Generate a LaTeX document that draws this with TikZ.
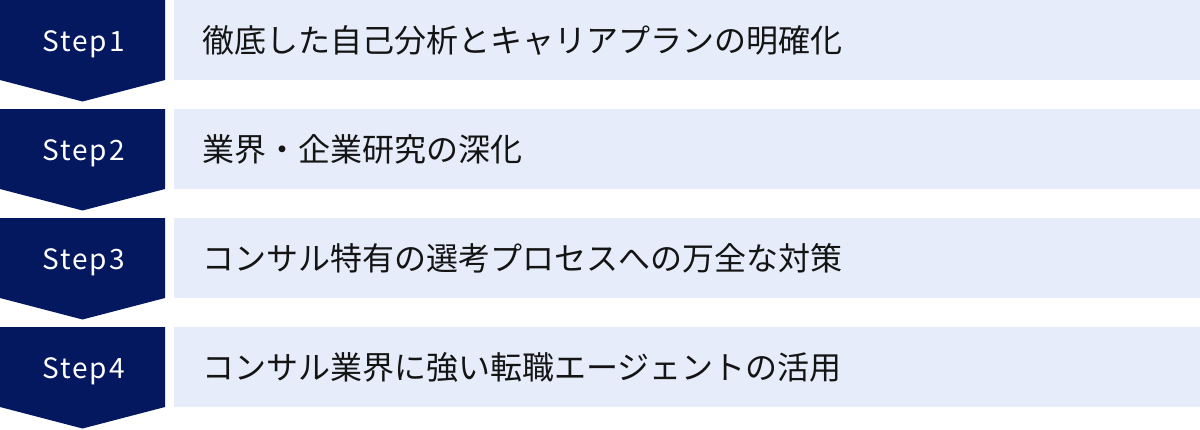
\documentclass[tikz,border=0pt]{standalone}
\usepackage{fontspec}
\setmainfont{Noto Sans CJK JP}
\newfontfamily\stepfont[LetterSpace=7]{Noto Sans CJK JP}
\definecolor{navy}{RGB}{4,24,96}
\definecolor{pale}{RGB}{230,236,250}
\definecolor{ink}{RGB}{20,20,20}
\begin{document}
\begin{tikzpicture}[x=1pt,y=-1pt,
  chevron/.style={fill=navy,draw=none},
  steplabel/.style={text=white,font=\stepfont\fontsize{28}{30}\selectfont,inner sep=0pt,anchor=center},
  panel/.style={fill=pale,draw=none,minimum width=1026pt,minimum height=80pt,inner sep=0pt,anchor=north west},
  paneltext/.style={text=ink,font=\fontsize{32}{36}\selectfont,inner sep=0pt,anchor=west}]
\useasboundingbox (0,0) rectangle (1200,429);
\foreach \i/\t/\txt in {1/0/徹底した自己分析とキャリアプランの明確化,
                        2/109/業界・企業研究の深化,
                        3/218/コンサル特有の選考プロセスへの万全な対策,
                        4/327/コンサル業界に強い転職エージェントの活用}{
  \fill[chevron] (0,\t) -- (165,\t) -- (165,\t+80) -- (82.5,\t+101.5) -- (0,\t+80) -- cycle;
  \node[steplabel] (s\i) at (83.5,\t+44) {Step\i};
  \node[panel] (p\i) at (174,\t) {};
  \node[paneltext] (t\i) at (202,\t+40) {\txt};
}
\end{tikzpicture}
\end{document}
